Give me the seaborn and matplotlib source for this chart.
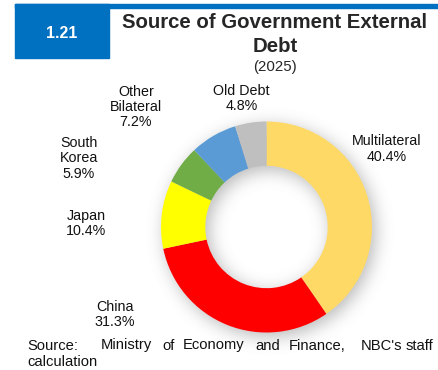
import numpy as np
import matplotlib
matplotlib.use("Agg")
import matplotlib.pyplot as plt
import seaborn as sns

sns.set_theme(style="white")
plt.rcParams["font.family"] = ["Liberation Sans", "DejaVu Sans"]

# Data
categories = ["Multilateral", "China", "Japan", "South\nKorea", "Other\nBilateral", "Old Debt"]
shares = [40.4, 31.3, 10.4, 5.9, 7.2, 4.8]
colors = ["#FFD966", "#FF0000", "#FFFF00", "#70AD47", "#5B9BD5", "#BFBFBF"]

W, H = 438, 370
fig = plt.figure(figsize=(W / 100, H / 100), dpi=100)
fig.patch.set_facecolor("white")


def fx(px):
    return px / W


def fy(py):
    return 1 - py / H


# Header band and number box
fig.patches.append(plt.Rectangle((fx(15), fy(8.3)), fx(438) - fx(15), 4.3 / H,
                                 transform=fig.transFigure, color="#0070C0", zorder=1))
fig.patches.append(plt.Rectangle((fx(15), fy(57.5)), 94 / W, 53.5 / H,
                                 transform=fig.transFigure, color="#0070C0", zorder=1))
fig.text(fx(62), fy(34), "1.21", color="white", fontsize=11.5, fontweight="bold",
         ha="center", va="center")

fig.text(fx(275), fy(22), "Source of Government External", fontsize=14.7, fontweight="bold",
         ha="center", va="center")
fig.text(fx(275), fy(46.5), "Debt", fontsize=14.7, fontweight="bold", ha="center", va="center")
fig.text(fx(275), fy(67.5), "(2025)", fontsize=10.8, ha="center", va="center")

# Donut axes
cx, cy, R = 266.5, 227.0, 105.5
half = R * 1.25
ax = fig.add_axes([fx(cx - half), fy(cy + half), 2 * half / W, 2 * half / H])
ax.set_xlim(-1.25, 1.25)
ax.set_ylim(-1.25, 1.25)
ax.set_aspect("equal")
ax.axis("off")

# Soft drop shadow beneath the ring
n = 500
g = np.linspace(-1.25, 1.25, n)
X, Y = np.meshgrid(g, g)
dx, dy = 0.03, -0.04
rr = np.hypot(X - dx, Y - dy)
ring = ((rr <= 1.0) & (rr >= 0.58)).astype(float)
sigma = 0.08 / (g[1] - g[0])
k = np.arange(-int(3 * sigma), int(3 * sigma) + 1)
kern = np.exp(-0.5 * (k / sigma) ** 2)
kern /= kern.sum()
blur = np.apply_along_axis(lambda r: np.convolve(r, kern, mode="same"), 1, ring)
blur = np.apply_along_axis(lambda c: np.convolve(c, kern, mode="same"), 0, blur)
shadow = np.zeros((n, n, 4))
shadow[..., :3] = 0.35
shadow[..., 3] = blur * 0.42
ax.imshow(shadow, extent=(-1.25, 1.25, -1.25, 1.25), origin="lower", zorder=0,
          interpolation="bilinear")

ax.pie(shares, colors=colors, startangle=90, counterclock=False, radius=1.0,
       wedgeprops=dict(width=0.42, edgecolor="none", linewidth=0, zorder=2))
ax.set_xlim(-1.25, 1.25)
ax.set_ylim(-1.25, 1.25)

# Category labels
label_pos = [(387, 149), (115, 314.5), (86, 223.5), (79, 158.5), (136, 107), (241.5, 98.5)]
for cat, val, (lx, ly) in zip(categories, shares, label_pos):
    fig.text(fx(lx), fy(ly), f"{cat}\n{val:.1f}%", fontsize=10.3, ha="center", va="center",
             linespacing=1.1, color="#111111")

# Source note, justified across the line
words = ["Source:", "Ministry", "of", "Economy", "and", "Finance,", "NBC's", "staff"]
lefts = [27, 100.5, 162, 183, 255, 289, 361, 406]
for w, lx in zip(words, lefts):
    fig.text(fx(lx), fy(345.5), w, fontsize=10.6, ha="left", va="center", color="#111111")
fig.text(fx(27), fy(362.5), "calculation", fontsize=10.6, ha="left", va="center", color="#111111")

fig.savefig("out.png", dpi=100, facecolor="white")
